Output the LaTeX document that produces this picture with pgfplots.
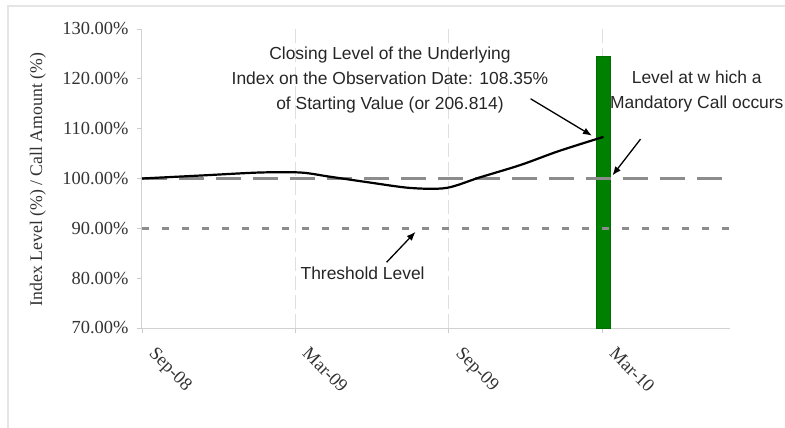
\documentclass[border=0pt]{standalone}
\usepackage{fontspec}
\setmainfont{Liberation Serif}
\newfontfamily\arial{Liberation Sans}
\usepackage{pgfplots}
\pgfplotsset{compat=1.18}
\usetikzlibrary{arrows.meta}
\definecolor{barg}{RGB}{0,128,0}
\begin{document}
\begin{tikzpicture}
\useasboundingbox (-142bp,-100bp) rectangle (643bp,328bp);
\draw[gray!20, line width=1.6bp] (-134bp,-110bp) -- (-134bp,322bp) -- (660bp,322bp);
\begin{axis}[
  at={(0,0)}, anchor=south west,
  scale only axis, width=588bp, height=299bp,
  xmin=0, xmax=23, ymin=70, ymax=130,
  axis lines*=left,
  axis line style={gray!35, line width=1bp, -},
  xtick={0,6,12,18}, xticklabels={Sep-08,Mar-09,Sep-09,Mar-10},
  ytick={70,80,90,100,110,120,130},
  yticklabels={70.00\%,80.00\%,90.00\%,100.00\%,110.00\%,120.00\%,130.00\%},
  tick align=outside,
  major tick length=5bp,
  tick style={gray!40, line width=0.8bp},
  xmajorgrids,
  major grid style={gray!25, line width=1bp, dash pattern=on 14bp off 5bp},
  ticklabel style={font=\fontsize{18.5}{20}\selectfont, text=black!80},
  xticklabel style={xshift=15bp, yshift=-8bp, rotate=-45, anchor=north west},
  yticklabel style={xshift=-5bp},
  clip=false,
]
\addplot[ybar, bar width=14bp, fill=barg, draw=barg!85!black, bar shift=0pt] coordinates {(18.05,124.5)};
\addplot[gray!90, line width=2.6bp, dash pattern=on 25bp off 12bp] coordinates {(0,100) (23,100)};
\addplot[gray!90, line width=2.6bp, dash pattern=on 7bp off 13bp] coordinates {(0,90) (23,90)};
\addplot[black, line width=2.2bp, smooth, tension=0.5] coordinates {
(0,100) (2.3,100.6) (4.6,101.2) (6.2,101.2) (7.3,100.4) (8.9,99.2) (10.5,98.1) (11.9,98.1) (13.2,100.2) (14.8,102.7) (16.3,105.5) (18.05,108.35)};
\node[rotate=90, font=\fontsize{17.8}{20}\selectfont, text=black!80] at (axis cs:-4.07,99.8) {Index Level (\%) / Call Amount (\%)};
\node[align=center, font=\arial\fontsize{17.5}{25}\selectfont, text=black!85] at (axis cs:9.7,119.8) {Closing Level of the Underlying\\Index on the Observation Date: 108.35\%\\of Starting Value (or 206.814)};
\node[align=center, font=\arial\fontsize{17.5}{25}\selectfont, text=black!85] at (axis cs:21.7,117.5) {Level at w hich a\\Mandatory Call occurs};
\node[font=\arial\fontsize{17.5}{20}\selectfont, text=black!85] at (axis cs:8.63,81.0) {Threshold Level};
\draw[-{Latex[length=9bp,width=7bp]}, line width=1.3bp] (axis cs:15.2,116.0) -- (axis cs:17.6,108.6);
\draw[-{Latex[length=9bp,width=7bp]}, line width=1.3bp] (axis cs:19.5,107.9) -- (axis cs:18.4,100.6);
\draw[-{Latex[length=9bp,width=7bp]}, line width=1.3bp] (axis cs:9.57,83.2) -- (axis cs:10.7,89.3);
\end{axis}
\end{tikzpicture}
\end{document}
